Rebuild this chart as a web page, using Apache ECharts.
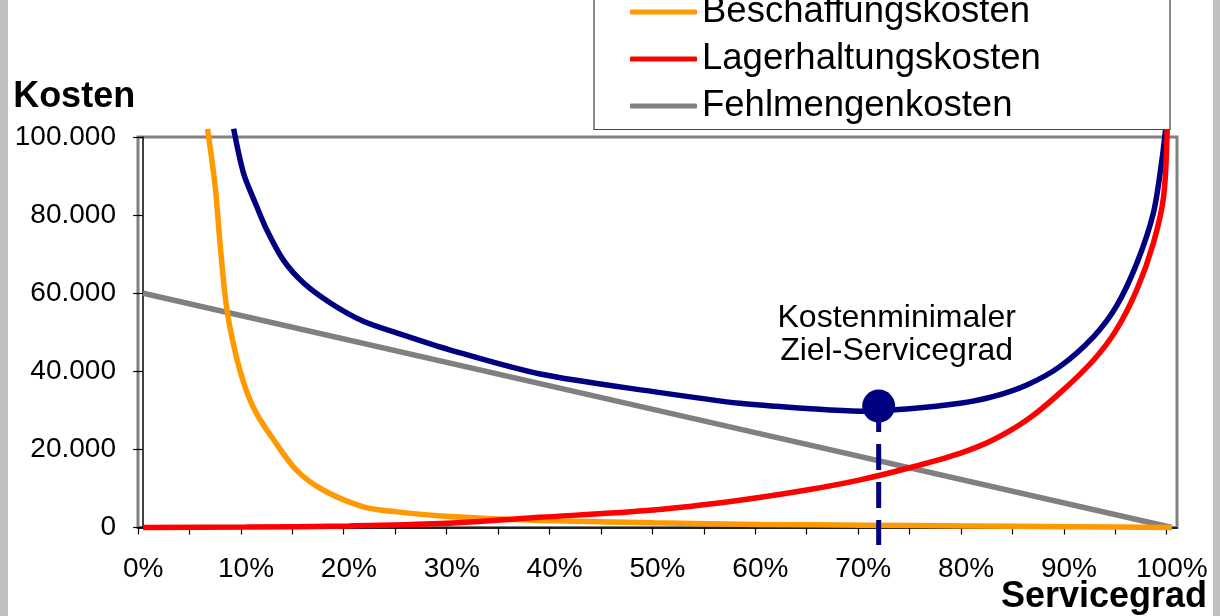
<!DOCTYPE html>
<html>
<head>
<meta charset="utf-8">
<script src="https://cdn.jsdelivr.net/npm/echarts@6/dist/echarts.min.js"></script>
<style>
html,body{margin:0;padding:0;background:#fff;}
#c{width:1220px;height:616px;}
</style>
</head>
<body>
<div id="c"></div>
<script>
// Servicegrad [%], Kosten
const gesamtkosten = [[8.8,102100],[9.75,90800],[10.9,83100],[12.0,76300],[13.6,68600],[15.6,62600],[18.2,57500],[21.4,52800],[24.7,49800],[29.8,45500],[38.6,39300],[49.6,34800],[58.0,31800],[64.5,30500],[69.7,29800],[74.5,30400],[79.4,31800],[82.6,33500],[85.9,36500],[89.1,41200],[92.4,48900],[94.6,56600],[96.6,67700],[98.2,80500],[99.0,93400],[99.4,102100]];
const beschaffungskosten = [[6.26,102100],[7.0,87400],[7.5,72000],[8.1,56600],[8.9,45500],[9.9,36100],[11.0,29300],[12.7,22400],[14.9,14700],[17.5,9600],[21.4,5300],[24.7,4000],[29.8,2800],[38.6,1800],[49.6,1200],[60,800],[70,600],[80,400],[90,200],[100,0]];
const lagerhaltungskosten = [[0,0],[10,100],[20,400],[28.9,1000],[38.6,2600],[49.6,4500],[58.0,7000],[64.5,9600],[69.7,12200],[74.5,15300],[79.4,19000],[82.6,22400],[85.9,27500],[89.1,34400],[92.4,42900],[94.6,50600],[96.6,60900],[98.2,72800],[99.2,84800],[99.55,102000]];
const fehlmengenkosten = [[0,60000],[50,30000],[100,0]];
const optimum = [[71.5,31100]];
const optimumDrop = [[71.5,31100],[71.5,-4500]];
const xTickValues = [-0.5,4.5,9.5,14.5,19.5,24.5,29.5,34.5,39.5,44.5,49.5,54.5,59.5,64.5,69.5,74.5,79.5,84.5,89.5,94.5,99.5];
const xLabelValues = [0,10,20,30,40,50,60,70,80,90,100];

const FONT = '"Liberation Sans", Arial, sans-serif';
const W = 5.5;
const chart = echarts.init(document.getElementById('c'));
chart.setOption({
  animation: false,
  backgroundColor: '#ffffff',
  textStyle: {fontFamily: FONT, color: '#000'},
  grid: {left: 138, right: 43, top: 137, bottom: 88.5, outerBoundsMode: 'none', containLabel: false,
    show: true, borderColor: '#808080', borderWidth: 3, backgroundColor: 'transparent'},
  legend: {
    orient: 'vertical', left: 594, top: -68.5,
    data: ['Gesamtkosten','Beschaffungskosten','Lagerhaltungskosten','Fehlmengenkosten'],
    icon: 'roundRect', itemWidth: 67, itemHeight: 5, itemGap: 0,
    padding: [10, 8, 0, 36],
    backgroundColor: '#fff', borderColor: '#404040', borderWidth: 1.2,
    selectedMode: false,
    textStyle: {fontFamily: FONT, fontSize: 36.5, lineHeight: 47, color: '#000', width: 460}
  },
  xAxis: {
    type: 'value', min: -0.5, max: 100.5,
    name: 'Servicegrad', nameLocation: 'end', nameGap: 30, nameMoveOverlap: false,
    nameTextStyle: {fontFamily: FONT, fontSize: 36, fontWeight: 'bold', color: '#000', align: 'right', verticalAlign: 'top', padding: [52, 0, 0, 0]},
    axisLine: {show: true, onZero: false, lineStyle: {color: '#000', width: 1.5}},
    axisTick: {show: true, inside: false, length: 7, customValues: xTickValues, lineStyle: {color: '#000', width: 1.2}},
    axisLabel: {customValues: xLabelValues, formatter: '{value}%', fontSize: 28, fontFamily: FONT, color: '#000', margin: 28},
    splitLine: {show: false}
  },
  yAxis: {
    type: 'value', min: 0, max: 100000, interval: 20000,
    name: 'Kosten', nameLocation: 'end', nameGap: 22, nameMoveOverlap: false,
    nameTextStyle: {fontFamily: FONT, fontSize: 36, fontWeight: 'bold', color: '#000', align: 'right', padding: [0, 8, 0, 0]},
    axisLine: {show: true, lineStyle: {color: '#000', width: 1.5}},
    axisTick: {show: true, inside: false, length: 10, lineStyle: {color: '#000', width: 1.2}},
    axisLabel: {fontSize: 28, fontFamily: FONT, color: '#000', margin: 22,
      formatter: v => v === 0 ? '0' : (v/1000) + '.000'},
    splitLine: {show: false}
  },
  graphic: [
    {type: 'rect', left: 0, top: 0, shape: {width: 8, height: 616}, style: {fill: '#c0c0c0'}, z: 100},
    {type: 'rect', left: 1213, top: 0, shape: {width: 7, height: 616}, style: {fill: '#c0c0c0'}, z: 100}
  ],
  series: [
    {name: 'Fehlmengenkosten', type: 'line', data: fehlmengenkosten, symbol: 'none', clip: false, z: 2,
      itemStyle: {color: '#808080'}, lineStyle: {color: '#808080', width: W}},
    {name: 'Gesamtkosten', type: 'line', data: gesamtkosten, symbol: 'none', clip: false, z: 3,
      smooth: 0.3,
      itemStyle: {color: '#000080'}, lineStyle: {color: '#000080', width: W}},
    {name: 'Beschaffungskosten', type: 'line', data: beschaffungskosten, symbol: 'none', clip: false, z: 4,
      smooth: 0.3,
      itemStyle: {color: '#ff9900'}, lineStyle: {color: '#ff9900', width: W}},
    {name: 'Lagerhaltungskosten', type: 'line', data: lagerhaltungskosten, symbol: 'none', clip: false, z: 5,
      smooth: 0.3,
      itemStyle: {color: '#ff0000'}, lineStyle: {color: '#ff0000', width: W}},
    {name: 'optimumDrop', type: 'line', data: optimumDrop, symbol: 'none', clip: false, z: 6,
      lineStyle: {color: '#000080', width: 5, type: [26, 12]}, silent: true},
    {name: 'optimum', type: 'scatter', data: optimum, symbol: 'circle', symbolSize: 33, clip: false, z: 7,
      itemStyle: {color: '#000080', opacity: 1},
      label: {show: true, position: 'top', distance: 22, offset: [18, 0], formatter: 'Kostenminimaler\nZiel-Servicegrad',
        fontFamily: FONT, fontSize: 32, lineHeight: 33, color: '#000', opacity: 1, align: 'center'}}
  ]
});
</script>
</body>
</html>
